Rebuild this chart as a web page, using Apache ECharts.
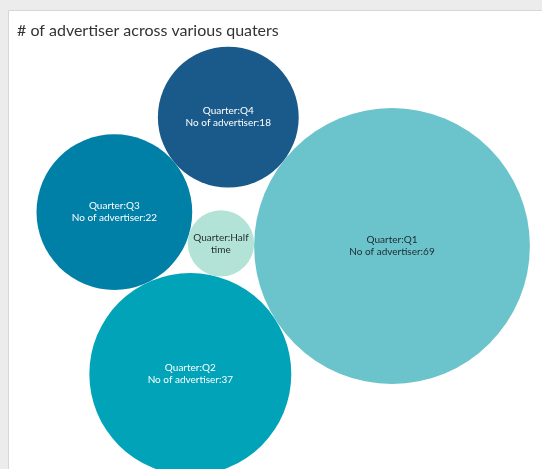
<!DOCTYPE html>
<html>
<head>
<meta charset="utf-8">
<script src="https://cdn.jsdelivr.net/npm/echarts@6/dist/echarts.min.js"></script>
<style>
  html, body { margin: 0; padding: 0; background: #ececec; }
  #chart { width: 542px; height: 469px; }
</style>
</head>
<body>
<div id="chart"></div>
<script>
// Number of advertisers per quarter
const quarters = ['Q1', 'Q2', 'Q3', 'Q4', 'Half time'];
const advertisers = [69, 37, 22, 18, 4];

const bubbleColors = ['#6bc4cb', '#00a3b8', '#007fa7', '#1a5a8a', '#b3e3d6'];
const labelColors = ['#1e2a30', '#ffffff', '#ffffff', '#ffffff', '#1e2a30'];

const W = 542, H = 469;
const PX_PER_UNIT = 16.6;          // pixels per unit of sqrt(advertisers)

// Bubble area is proportional to the count, so radius = sqrt(count)
const radius = advertisers.map(v => Math.sqrt(v));

// Circle of radius r touching circles a and b; side picks one of the two solutions
function tangentTo(a, b, r, side) {
  const dx = b.x - a.x, dy = b.y - a.y;
  const d = Math.hypot(dx, dy);
  const da = a.r + r, db = b.r + r;
  const along = (da * da - db * db + d * d) / (2 * d);
  const h = Math.sqrt(Math.max(0, da * da - along * along));
  const ux = dx / d, uy = dy / d;
  return {
    x: a.x + along * ux + side * (-uy) * h,
    y: a.y + along * uy + side * ux * h,
    r: r
  };
}

// Packed layout: largest bubble first, second one touching it, the rest
// each nestled against two bubbles that are already placed
const circles = [];
circles[0] = { x: 392 / PX_PER_UNIT, y: 246 / PX_PER_UNIT, r: radius[0] };
const ang = 147.6 * Math.PI / 180;
circles[1] = {
  x: circles[0].x + (radius[0] + radius[1]) * Math.cos(ang),
  y: circles[0].y + (radius[0] + radius[1]) * Math.sin(ang),
  r: radius[1]
};
circles[4] = tangentTo(circles[0], circles[1], radius[4], 1);
circles[2] = tangentTo(circles[1], circles[4], radius[2], -1);
circles[3] = tangentTo(circles[2], circles[0], radius[3], -1);

const seriesData = quarters.map((q, i) => [circles[i].x, circles[i].y, radius[i], advertisers[i], q]);

function bubbleLabel(name, count, rPx) {
  if (rPx < 45) return ('Quarter:' + name).replace(' ', '\n');
  return 'Quarter:' + name + '\nNo of advertiser:' + count;
}

const chart = echarts.init(document.getElementById('chart'), null, { renderer: 'canvas' });

chart.setOption({
  backgroundColor: '#ececec',
  animation: false,
  title: {
    text: '# of advertiser across various quaters',
    left: 12,
    top: 18,
    textStyle: {
      fontFamily: 'Lato',
      fontSize: 16,
      fontWeight: 'normal',
      color: '#333333'
    }
  },
  graphic: [{
    type: 'rect',
    z: -10,
    shape: { x: 8.5, y: 10.5, width: W + 10, height: H + 10 },
    style: { fill: '#ffffff', stroke: '#d6d6d6', lineWidth: 1 }
  }],
  grid: { left: 0, right: 0, top: 0, bottom: 0, containLabel: false },
  xAxis: { type: 'value', min: 0, max: W / PX_PER_UNIT, show: false },
  yAxis: { type: 'value', min: 0, max: H / PX_PER_UNIT, inverse: true, show: false },
  series: [{
    type: 'custom',
    clip: false,
    data: seriesData,
    renderItem: function (params, api) {
      const i = params.dataIndex;
      const c = api.coord([api.value(0), api.value(1)]);
      const rPx = api.size([api.value(2), 0])[0];
      return {
        type: 'group',
        children: [{
          type: 'circle',
          shape: { cx: c[0], cy: c[1], r: rPx },
          style: { fill: bubbleColors[i] }
        }, {
          type: 'text',
          x: c[0],
          y: c[1],
          style: {
            text: bubbleLabel(quarters[i], advertisers[i], rPx),
            fill: labelColors[i],
            fontFamily: 'Lato',
            fontSize: 10,
            lineHeight: 12,
            align: 'center',
            verticalAlign: 'middle'
          }
        }]
      };
    }
  }]
});
</script>
</body>
</html>
